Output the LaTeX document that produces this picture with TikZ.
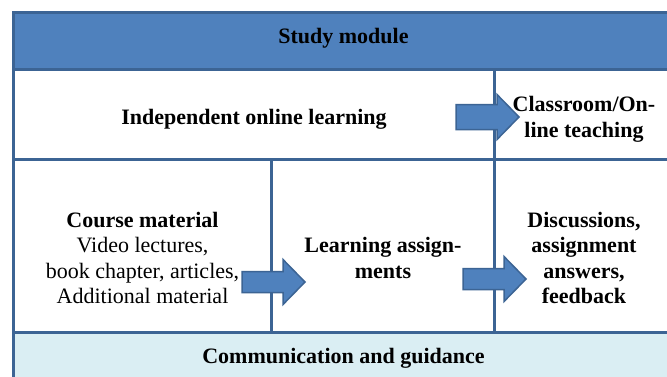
\documentclass[tikz,border=0pt]{standalone}
\usepackage{fontspec}
\setmainfont{Liberation Serif}
\definecolor{modblue}{HTML}{4F81BD}
\definecolor{edgeblue}{HTML}{3C6494}
\definecolor{guideblue}{HTML}{DAEEF3}
\tikzset{
  cell/.style = {draw=edgeblue, line width=3pt, rectangle, anchor=north west},
  celltext/.style = {align=center, inner sep=0pt, font=\fontsize{22}{25.5}\selectfont\bfseries},
  blockarrow/.pic = {
    \draw[fill=modblue, draw=edgeblue, line width=1.5pt, line join=miter]
      (0,-\shafthalf) -- (41,-\shafthalf) -- (41,-22.5) -- (63,0)
      -- (41,22.5) -- (41,\shafthalf) -- (0,\shafthalf) -- cycle;
  }
}
\newcommand{\shafthalf}{11.5}
\begin{document}
\begin{tikzpicture}[x=1pt, y=-1pt]
  \clip (0,0) rectangle (667,376);
  \fill[white] (0,0) rectangle (667,376);

  % frames of the module
  \node[cell, fill=modblue, minimum width=660pt, minimum height=57pt] (module) at (12,11) {};
  \node[cell, minimum width=481pt, minimum height=90pt] (online) at (12,68) {};
  \node[cell, minimum width=179pt, minimum height=90pt] (classroom) at (493,68) {};
  \node[cell, minimum width=258pt, minimum height=173pt] (material) at (12,158) {};
  \node[cell, minimum width=223pt, minimum height=173pt] (assign) at (270,158) {};
  \node[cell, minimum width=179pt, minimum height=173pt] (discuss) at (493,158) {};
  \node[cell, fill=guideblue, minimum width=660pt, minimum height=49pt] (guidance) at (12,331) {};

  % texts
  \node[celltext] (moduletext) at ([yshift=3pt]module.center) {Study module};
  \node[celltext] (onlinetext) at ([yshift=-5pt]online.center) {Independent online learning};
  \node[celltext] (classroomtext) at ([yshift=-5pt]classroom.center) {Classroom/On-\\line teaching};
  \node[celltext] (materialtext) at ([yshift=-12pt]material.center)
    {Course material\\\mdseries Video lectures,\\\mdseries book chapter, articles,\\\mdseries Additional material};
  \node[celltext] (assigntext) at ([yshift=-12pt]assign.center) {Learning assign-\\ments};
  \node[celltext] (discusstext) at ([yshift=-12pt]discuss.center) {Discussions,\\assignment\\answers,\\feedback};
  \node[celltext] (guidancetext) at ([yshift=-1pt]guidance.center) {Communication and guidance};

  % arrows across the cells
  \renewcommand{\shafthalf}{12.5}
  \pic at (456,117) {blockarrow};
  \renewcommand{\shafthalf}{10.5}
  \pic at (242,282) {blockarrow};
  \pic at (463,279) {blockarrow};
\end{tikzpicture}
\end{document}
